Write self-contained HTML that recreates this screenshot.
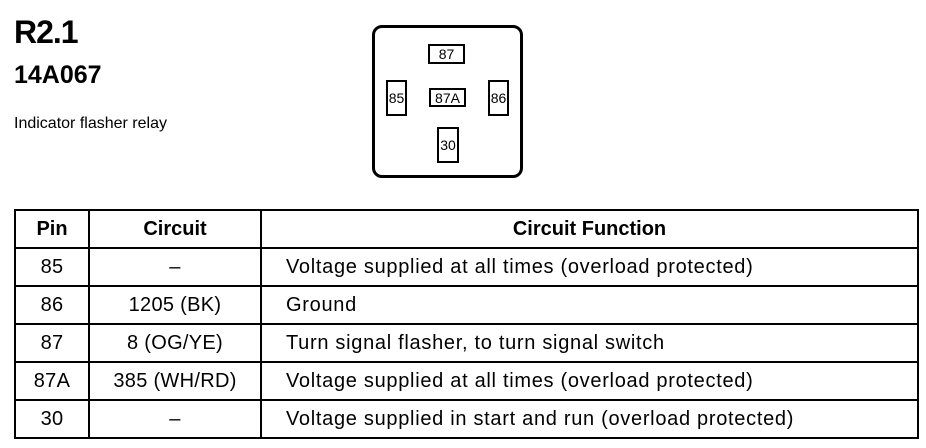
<!DOCTYPE html>
<html><head><meta charset="utf-8"><style>
body{margin:0;width:926px;height:448px;background:#fff;position:relative;font-family:"Liberation Sans",Arial,sans-serif;color:#000;overflow:hidden}
.a{position:absolute;white-space:nowrap}
.bx{position:absolute;border:2px solid #000;box-sizing:border-box;font-size:14px;text-align:center;display:flex;align-items:center;justify-content:center}
table{position:absolute;left:14px;top:209px;border-collapse:collapse;width:905px}
tr{height:38px}
td{border:2px solid #000;font-size:20px;padding:0;text-align:center;letter-spacing:0.3px}
td.f{text-align:left;padding-left:24px;letter-spacing:0.7px}
tr.h td{font-weight:bold;letter-spacing:0}
</style></head><body>
<div class="a" style="left:14px;top:14px;font-size:32px;font-weight:bold;letter-spacing:-1px">R2.1</div>
<div class="a" style="left:14px;top:61px;font-size:25px;font-weight:bold">14A067</div>
<div class="a" style="left:14px;top:115px;font-size:16px">Indicator flasher relay</div>
<div style="position:absolute;left:372px;top:25px;width:151px;height:153px;border:3px solid #000;border-radius:10px;box-sizing:border-box"></div>
<div class="bx" style="left:428px;top:44px;width:37px;height:20px">87</div>
<div class="bx" style="left:386px;top:80px;width:21px;height:36px">85</div>
<div class="bx" style="left:429px;top:88px;width:37px;height:19px">87A</div>
<div class="bx" style="left:488px;top:80px;width:21px;height:36px">86</div>
<div class="bx" style="left:437px;top:127px;width:22px;height:36px">30</div>
<table>
<colgroup><col style="width:74px"><col style="width:172px"><col></colgroup>
<tr class="h"><td>Pin</td><td>Circuit</td><td>Circuit Function</td></tr>
<tr><td>85</td><td>–</td><td class="f">Voltage supplied at all times (overload protected)</td></tr>
<tr><td>86</td><td>1205 (BK)</td><td class="f">Ground</td></tr>
<tr><td>87</td><td>8 (OG/YE)</td><td class="f">Turn signal flasher, to turn signal switch</td></tr>
<tr><td>87A</td><td>385 (WH/RD)</td><td class="f">Voltage supplied at all times (overload protected)</td></tr>
<tr><td>30</td><td>–</td><td class="f">Voltage supplied in start and run (overload protected)</td></tr>
</table>
</body></html>
